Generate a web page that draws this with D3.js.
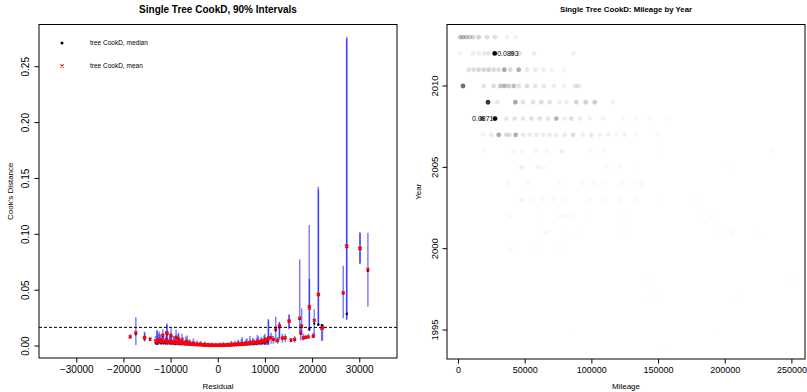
<!DOCTYPE html>
<html><head><meta charset="utf-8">
<script src="https://cdn.jsdelivr.net/npm/d3@7"></script>
<style>
body{margin:0;background:#fff}
svg{display:block}
text{font-family:"Liberation Sans",Arial,Helvetica,sans-serif}
</style>
</head><body>
<svg id="c" width="807" height="392"></svg>
<script>
// ---------------- LEFT PANEL DATA: per-observation CookD summaries ----------------
const residual = [
 -13200,-12600,-12000,-11500,-11100,-10600,-10200,-9800,-9400,-9000,-8600,-8200,-7800,-7400,-7000,-6600,-6200,-5800,-5400,-5000,-4600,-4200,-3800,-3400,-3000,-2600,-2200,-1800,-1400,-1000,-600,-200,
 200,600,1000,1400,1800,2200,2600,3000,3400,3800,4200,4600,5000,5400,5800,6200,6600,7000,7400,7800,8200,8600,9000,9400,9800,10300,
 -12400,-11800,-10900,-10000,-9200,-8400,-7600,-6800,-6000,-5200,-4400,-3600,-2800,-2000,-1200,-400,400,1200,2000,2800,3600,4400,5200,6000,6800,7600,8400,9200,10000,10600,
 -18570,-17370,-15540,-15480,-14340,-12900,-12850,-12200,-11650,-10800,-10750,-9890,-8830,-8300,-7600,-6500,
 10020,10720,10760,11300,12280,13050,13100,13700,14300,15100,15140,15530,17370,17580,17790,18130,18600,19190,19400,19440,20250,20460,21310,21350,22030,22200,26600,27320,27360,30140,30170,31830,11800,12700,16300
];
const ciLow = [
 .0010,.0012,.0010,.0010,.0008,.0008,.0010,.0008,.0007,.0006,.0006,.0006,.0005,.0005,.0005,.0004,.0004,.0004,.0003,.0003,.0003,.0003,.0002,.0002,.0002,.0002,.0002,.0001,.0001,.0001,.0001,.0001,
 .0001,.0001,.0001,.0001,.0002,.0002,.0002,.0002,.0002,.0003,.0003,.0003,.0003,.0004,.0004,.0004,.0005,.0005,.0005,.0006,.0006,.0007,.0008,.0008,.0009,.0010,
 .0015,.0012,.0012,.0011,.0010,.0009,.0008,.0007,.0006,.0005,.0004,.0003,.0003,.0003,.0002,.0002,.0002,.0002,.0003,.0003,.0004,.0004,.0005,.0006,.0007,.0008,.0009,.0010,.0011,.0012,
 .0065,.0010,.0039,.0045,.0052,.0012,.0010,.0015,.0020,.0030,.0035,.0025,.0020,.0015,.0012,.0010,
 .0010,.0008,.0015,.0020,.0030,.0060,.0070,.0030,.0035,.0150,.0160,.0040,.0130,.0050,.0100,.0050,.0060,.0065,.0143,.0150,.0070,.0080,.0180,.0185,.0045,.0050,.0248,.0233,.0240,.0734,.0740,.0352,.0020,.0020,.0030
];
const ciHigh = [
 .0090,.0110,.0075,.0095,.0080,.0070,.0110,.0065,.0090,.0060,.0080,.0072,.0055,.0078,.0050,.0062,.0045,.0052,.0040,.0048,.0035,.0030,.0038,.0026,.0024,.0030,.0020,.0018,.0022,.0016,.0025,.0015,
 .0018,.0030,.0017,.0024,.0019,.0035,.0022,.0040,.0026,.0033,.0050,.0030,.0062,.0038,.0045,.0070,.0042,.0056,.0075,.0050,.0068,.0085,.0060,.0072,.0095,.0070,
 .0130,.0100,.0095,.0120,.0085,.0105,.0070,.0085,.0060,.0068,.0050,.0045,.0040,.0030,.0032,.0026,.0028,.0036,.0030,.0045,.0048,.0055,.0080,.0060,.0090,.0065,.0100,.0080,.0110,.0090,
 .0105,.0257,.0128,.0120,.0072,.0143,.0135,.0105,.0150,.0203,.0190,.0160,.0145,.0120,.0110,.0095,
 .0080,.0242,.0230,.0120,.0262,.0218,.0210,.0110,.0105,.0284,.0275,.0075,.0776,.0200,.0337,.0110,.0100,.0110,.1083,.0600,.0120,.0328,.1426,.1400,.0195,.0190,.0719,.2769,.2750,.1020,.1010,.1014,.0090,.0080,.0090
];
const cookMedian = [
 .0030,.0035,.0028,.0030,.0025,.0024,.0028,.0022,.0024,.0020,.0022,.0019,.0018,.0019,.0016,.0015,.0014,.0013,.0012,.0011,.0010,.0009,.0008,.0008,.0007,.0006,.0006,.0005,.0005,.0005,.0004,.0004,
 .0004,.0005,.0005,.0005,.0006,.0006,.0007,.0007,.0008,.0009,.0010,.0011,.0012,.0013,.0014,.0015,.0016,.0018,.0019,.0020,.0022,.0024,.0026,.0028,.0030,.0032,
 .0040,.0038,.0035,.0033,.0030,.0028,.0025,.0022,.0020,.0018,.0015,.0013,.0011,.0009,.0008,.0008,.0008,.0008,.0010,.0011,.0013,.0015,.0018,.0020,.0023,.0026,.0029,.0032,.0035,.0038,
 .0080,.0105,.0070,.0072,.0062,.0024,.0022,.0035,.0090,.0108,.0105,.0085,.0072,.0055,.0045,.0030,
 .0045,.0060,.0062,.0070,.0140,.0170,.0168,.0065,.0068,.0215,.0218,.0052,.0240,.0110,.0170,.0070,.0076,.0080,.0145,.0160,.0088,.0200,.0190,.0195,.0188,.0185,.0470,.0287,.0290,.0870,.0872,.0670,.0055,.0045,.0055
];
const cookMean = [
 .0045,.0050,.0038,.0042,.0035,.0032,.0040,.0030,.0034,.0028,.0030,.0026,.0024,.0027,.0022,.0020,.0019,.0017,.0016,.0014,.0013,.0012,.0011,.0010,.0009,.0008,.0008,.0007,.0007,.0006,.0006,.0006,
 .0006,.0006,.0007,.0007,.0008,.0008,.0009,.0010,.0011,.0012,.0013,.0014,.0016,.0017,.0019,.0020,.0022,.0024,.0026,.0028,.0030,.0033,.0035,.0038,.0041,.0045,
 .0060,.0055,.0050,.0048,.0042,.0040,.0036,.0032,.0027,.0024,.0020,.0017,.0014,.0012,.0011,.0010,.0010,.0011,.0013,.0015,.0018,.0021,.0024,.0028,.0032,.0036,.0040,.0045,.0050,.0055,
 .0083,.0119,.0074,.0075,.0063,.0040,.0035,.0054,.0098,.0119,.0115,.0092,.0080,.0065,.0052,.0038,
 .0054,.0069,.0070,.0078,.0158,.0179,.0176,.0072,.0075,.0224,.0222,.0054,.0250,.0122,.0179,.0074,.0078,.0082,.0352,.0340,.0090,.0230,.0463,.0460,.0158,.0165,.0477,.0895,.0890,.0875,.0873,.0686,.0060,.0052,.0060
];
const cutoffCookD = 0.0167;
const xTicksLeft = [-30000,-20000,-10000,0,10000,20000,30000];
const yTicksLeft = [0,0.05,0.10,0.15,0.20,0.25];
const legendLabels = ["tree CookD, median","tree CookD, mean"];

// ---------------- RIGHT PANEL DATA: mileage by year, shaded by CookD ----------------
const yearRows = [2013,2012,2011,2010,2009,2008,2007,2006,2005,2004,2003,2002,2001,2000,1998,1997,1995,1994];
const rowMileage = [
 [1750,4000,6500,9000,11250,15500,21750,27750,36750,43000],
 [1750,11250,15500,20000,23000,27500,40500,46000,57000,86500],
 [8000,11750,15500,19250,23000,26750,30500,34750,39250,45500,51750,58000,64250,70500,79250],
 [3750,19250,26750,31750,34750,38000,41750,45500,51750,58000,64250,71750,79250,88000,90500],
 [22500,29500,43000,48750,56250,62500,68750,76250,81250,88750,95750,102500,116250],
 [18000,27750,36250,42500,48750,55000,61250,67500,73750,80000,85000,91250,98750,108750,123750,133750,143750,156250],
 [18750,25000,30500,36250,38750,43250,48750,53750,58750,63750,68750,73750,80000,86250,93750,100000,106250,112500,118750,125000,133750,150000],
 [19250,41750,48000,58000,66750,78000,99250,109250,151250,236250],
 [47500,60000,64250,111750,121750,133750,203750],
 [37500,52500,76250,93750,102500,108750,122500,131250,137500],
 [47500,56250,63750,71250,78750,98750,108750,121250,133750,150000,178750],
 [38750,61250,76250,81250,86250,98750,123750,181250,190000],
 [65000,67500,80000,90000,125000,196250,205000,225000],
 [40000,58750,76250],
 [142500,250000],
 [143750,151250,210000],
 [85000,193750],
 [153750]
];
const rowCookD = [
 [.022,.021,.019,.016,.014,.016,.012,.010,.005,.004],
 [.004,.006,.006,.007,.008,.0893,.028,.010,.006,.005],
 [.010,.012,.014,.014,.016,.012,.012,.030,.012,.028,.008,.007,.006,.004,.003],
 [.050,.010,.012,.020,.025,.018,.022,.010,.012,.009,.008,.006,.005,.010,.008],
 [.070,.008,.030,.010,.010,.012,.010,.006,.006,.014,.016,.018,.005],
 [.050,.0871,.008,.010,.008,.010,.010,.008,.026,.006,.012,.006,.005,.004,.003,.003,.002,.0015],
 [.004,.007,.030,.012,.010,.028,.008,.007,.007,.006,.007,.006,.007,.012,.005,.008,.004,.005,.003,.005,.003,.002],
 [.002,.0035,.0035,.004,.003,.005,.002,.002,.0012,.002],
 [.005,.0045,.0025,.002,.002,.0012,.0012],
 [.0025,.0025,.002,.0025,.0025,.002,.0025,.002,.003],
 [.004,.0025,.002,.002,.002,.002,.0025,.002,.002,.0012,.0012],
 [.002,.0012,.002,.002,.002,.0012,.0012,.0012,.002],
 [.002,.002,.0012,.0012,.0012,.0012,.002,.0012],
 [.002,.0012,.0012],
 [.001,.001],
 [.001,.001,.001],
 [.001,.001],
 [.001]
];
const labelYears = [2012, 2008];
const labelMileage = [27500, 27750];
const labelCookD = [0.0893, 0.0871];
const xTicksRight = [0,50000,100000,150000,200000,250000];
const yTicksRight = [1995,2000,2005,2010];

// ---------------- DRAWING ----------------
const svg = d3.select("#c");
svg.append("rect").attr("width",807).attr("height",392).attr("fill","#fff");

function box(x0,y0,x1,y1){
  svg.append("rect").attr("x",x0).attr("y",y0).attr("width",x1-x0).attr("height",y1-y0)
    .attr("fill","none").attr("stroke","#000").attr("stroke-width",1);
}
function xAxis(scale, ticks, yBase, fmt, fs){
  const g = svg.append("g").attr("transform",`translate(0,${yBase})`)
    .call(d3.axisBottom(scale).tickValues(ticks).tickSize(4.5).tickPadding(3).tickFormat(fmt));
  g.select(".domain").remove();
  g.selectAll("line").attr("stroke","#000");
  g.selectAll("text").attr("font-size",fs).attr("fill","#000")
   .attr("font-family","'Liberation Sans',Arial,sans-serif");
}
function yAxis(scale, ticks, xBase, labelX, fmt, fs){
  const g = svg.append("g");
  g.selectAll("line").data(ticks).join("line")
    .attr("x1",xBase).attr("x2",xBase-4.5)
    .attr("y1",d=>scale(d)).attr("y2",d=>scale(d)).attr("stroke","#000");
  g.selectAll("text").data(ticks).join("text")
    .attr("transform",d=>`translate(${labelX},${scale(d)}) rotate(-90)`)
    .attr("text-anchor","middle").attr("dy","0.35em")
    .attr("font-size",fs).text(fmt);
}
function rotLabel(x,y,txt,fs){
  svg.append("text").attr("transform",`translate(${x},${y}) rotate(-90)`)
    .attr("text-anchor","middle").attr("dy","0.35em").attr("font-size",fs).text(txt);
}

// ---- left panel ----
const L = {x0:39, x1:397, y0:24.5, y1:358};
const xL = d3.scaleLinear().domain([-37900, 38000]).range([L.x0, L.x1]);
const yL = d3.scaleLinear().domain([-0.0107, 0.2878]).range([L.y1, L.y0]);

const obs = residual.map((r,i)=>({r, lo:ciLow[i], hi:ciHigh[i], med:cookMedian[i], mean:cookMean[i]}));
const gL = svg.append("g");
gL.selectAll("line.ci").data(obs).join("line").attr("class","ci")
  .attr("x1",d=>xL(d.r)).attr("x2",d=>xL(d.r))
  .attr("y1",d=>yL(d.lo)).attr("y2",d=>yL(d.hi))
  .attr("stroke","#0000ff").attr("stroke-opacity",0.5).attr("stroke-width",1.5);
gL.selectAll("circle.med").data(obs).join("circle").attr("class","med")
  .attr("cx",d=>xL(d.r)).attr("cy",d=>yL(d.med)).attr("r",1.1).attr("fill","#000");
const xs = 1.4;
gL.selectAll("path.mean").data(obs).join("path").attr("class","mean")
  .attr("d",d=>{const x=xL(d.r), y=yL(d.mean);
     return `M${x-xs},${y-xs}L${x+xs},${y+xs}M${x-xs},${y+xs}L${x+xs},${y-xs}`;})
  .attr("stroke","#ff0000").attr("stroke-width",1.5).attr("fill","none");

svg.append("line").attr("x1",L.x0).attr("x2",L.x1)
  .attr("y1",yL(cutoffCookD)).attr("y2",yL(cutoffCookD))
  .attr("stroke","#000").attr("stroke-width",1).attr("stroke-dasharray","3,2");

box(L.x0,L.y0,L.x1,L.y1);
xAxis(xL, xTicksLeft, L.y1, d3.format("d"), 10);
yAxis(yL, yTicksLeft, L.x0, 25, d3.format(".2f"), 10);

svg.append("text").attr("x",(L.x0+L.x1)/2).attr("y",12.5).attr("text-anchor","middle")
  .attr("font-size",10).attr("font-weight","bold").text("Single Tree CookD, 90% Intervals");
svg.append("text").attr("x",(L.x0+L.x1)/2).attr("y",389).attr("text-anchor","middle")
  .attr("font-size",8).text("Residual");
rotLabel(10, (L.y0+L.y1)/2, "Cook's Distance", 8);

// legend
svg.append("circle").attr("cx",62).attr("cy",43).attr("r",1.5).attr("fill","#000");
svg.append("path").attr("d",`M${62-1.6},${66-1.6}L${62+1.6},${66+1.6}M${62-1.6},${66+1.6}L${62+1.6},${66-1.6}`)
  .attr("stroke","#ff0000").attr("stroke-width",1.1);
svg.selectAll("text.leg").data(legendLabels).join("text").attr("class","leg")
  .attr("x",90).attr("y",(d,i)=>43+i*23).attr("dy","0.35em").attr("font-size",6.5).text(d=>d);

// ---- right panel ----
const R = {x0:447, x1:805, y0:24.5, y1:359};
const xR = d3.scaleLinear().domain([-8250, 260200]).range([R.x0, R.x1]);
const yR = d3.scaleLinear().domain([1993.22, 2013.78]).range([R.y1, R.y0]);
const maxCook = d3.max(rowCookD.flat());
const shade = d3.scaleLinear().domain([0, maxCook]).range([0, 1]);

const pts = [];
yearRows.forEach((yr,i)=>rowMileage[i].forEach((m,j)=>pts.push({yr, m, c:rowCookD[i][j]})));
svg.append("g").selectAll("circle").data(pts).join("circle")
  .attr("cx",d=>xR(d.m)).attr("cy",d=>yR(d.yr)).attr("r",2.4)
  .attr("fill","#000").attr("fill-opacity",d=>shade(d.c));

const fmtC = d3.format(".3r");
svg.append("text").attr("x",xR(labelMileage[0])+2.5).attr("y",yR(labelYears[0])).attr("dy","0.35em")
  .attr("font-size",7).attr("text-anchor","start").text(fmtC(labelCookD[0]));
svg.append("text").attr("x",xR(labelMileage[1])-1.5).attr("y",yR(labelYears[1])).attr("dy","0.35em")
  .attr("font-size",7).attr("text-anchor","end").text(fmtC(labelCookD[1]));

box(R.x0,R.y0,R.x1,R.y1);
xAxis(xR, xTicksRight, R.y1, d3.format("d"), 9);
yAxis(yR, yTicksRight, R.x0, 434.7, d3.format("d"), 9.5);

svg.append("text").attr("x",(R.x0+R.x1)/2).attr("y",12).attr("text-anchor","middle")
  .attr("font-size",7.8).attr("font-weight","bold").text("Single Tree CookD: Mileage by Year");
svg.append("text").attr("x",(R.x0+R.x1)/2).attr("y",389).attr("text-anchor","middle")
  .attr("font-size",8).text("Mileage");
rotLabel(418, (R.y0+R.y1)/2, "Year", 8);
</script>
</body></html>
